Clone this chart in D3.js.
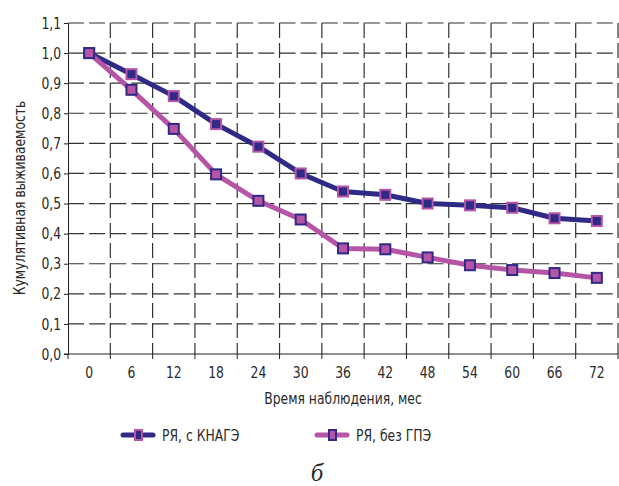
<!DOCTYPE html>
<html>
<head>
<meta charset="utf-8">
<script src="https://cdn.jsdelivr.net/npm/d3@7"></script>
<style>
  body { margin: 0; background: #fff; }
  svg text { font-family: "Liberation Sans Narrow", "DejaVu Sans Condensed", sans-serif; fill: #2a2a2a; }
</style>
</head>
<body>
<svg id="chart" width="619" height="486"></svg>
<script>
// months of observation (x categories)
let MONTHS = [0, 6, 12, 18, 24, 30, 36, 42, 48, 54, 60, 66, 72];
// cumulative survival
let WITH_KNAGE = [1.0, 0.93, 0.857, 0.764, 0.689, 0.60, 0.54, 0.529, 0.50, 0.494, 0.486, 0.451, 0.442];
let WITHOUT_GPE = [1.0, 0.878, 0.748, 0.597, 0.509, 0.447, 0.351, 0.348, 0.321, 0.295, 0.279, 0.269, 0.253];
let Y_TICKS = [0, 0.1, 0.2, 0.3, 0.4, 0.5, 0.6, 0.7, 0.8, 0.9, 1.0, 1.1];
let SERIES_NAMES = ['РЯ, с КНАГЭ', 'РЯ, без ГПЭ'];

let NAVY = '#2e2a86';
let PINK = '#b654a6';
let FONT_SIZE = 16;
let SQUEEZE = 'scale(0.86,1)'; // narrow the font, the original is a condensed face

let margin = { left: 68, right: 1, top: 23, bottom: 132 };
let svg = d3.select('#chart');
let W = +svg.attr('width'), H = +svg.attr('height');

let x = d3.scaleBand().domain(MONTHS).range([margin.left, W - margin.right]);
let y = d3.scaleLinear().domain([0, 1.1]).range([H - margin.bottom, margin.top]);
let fmt = v => d3.format('.1f')(v).replace('.', ',');

// condensed text placed at (px, py)
function label(parent, px, py, str, anchor, extra) {
    return parent.append('g').attr('transform', `translate(${px},${py}) ${extra || ''}`)
        .append('text').attr('transform', SQUEEZE)
        .attr('text-anchor', anchor).attr('font-size', FONT_SIZE).text(str);
}

// horizontal dashed gridlines
svg.append('g').selectAll('line').data(Y_TICKS.slice(1)).enter().append('line')
    .attr('x1', margin.left).attr('x2', W - margin.right)
    .attr('y1', d => y(d)).attr('y2', d => y(d))
    .attr('stroke', '#333').attr('stroke-width', 1.2)
    .attr('stroke-dasharray', '16,5.15');

// vertical dashed gridlines at the band boundaries
let bounds = MONTHS.slice(1).map(m => x(m)).concat([W - margin.right]);
svg.append('g').selectAll('line').data(bounds).enter().append('line')
    .attr('x1', d => d).attr('x2', d => d)
    .attr('y1', y(1.1)).attr('y2', y(0))
    .attr('stroke', '#333').attr('stroke-width', 1.2)
    .attr('stroke-dasharray', '15,5');

// y axis
let yAxis = svg.append('g').attr('transform', `translate(${margin.left},0)`)
    .call(d3.axisLeft(y).tickValues(Y_TICKS).tickFormat(fmt).tickSize(4).tickPadding(4));
yAxis.select('.domain').attr('stroke', '#222');
yAxis.selectAll('.tick line').attr('stroke', '#222');
yAxis.selectAll('text').attr('font-size', FONT_SIZE).attr('fill', '#2a2a2a')
    .attr('transform', SQUEEZE);

// x axis: ticks at band boundaries, labels at band centres
let xg = svg.append('g').attr('transform', `translate(0,${y(0)})`);
xg.append('line').attr('x1', margin.left - 4).attr('x2', W - margin.right)
    .attr('stroke', '#222');
xg.selectAll('.xt').data([margin.left].concat(bounds)).enter().append('line')
    .attr('x1', d => d).attr('x2', d => d).attr('y1', 0).attr('y2', 5)
    .attr('stroke', '#222');
MONTHS.forEach(m => label(xg, x(m) + x.bandwidth() / 2, 24, m, 'middle'));

// axis titles
label(svg, 343, 404, 'Время наблюдения, мес', 'middle');
label(svg, 25, 198, 'Кумулятивная выживаемость', 'middle', 'rotate(-90)');

// lines and markers
let series = [
    { name: SERIES_NAMES[0], values: WITH_KNAGE, line: NAVY, edge: PINK },
    { name: SERIES_NAMES[1], values: WITHOUT_GPE, line: PINK, edge: NAVY }
];
let cx = m => x(m) + x.bandwidth() / 2;
let line = d3.line().x((v, i) => cx(MONTHS[i])).y(v => y(v));

series.forEach(s => {
    svg.append('path').attr('d', line(s.values))
        .attr('fill', 'none').attr('stroke', s.line).attr('stroke-width', 5)
        .attr('stroke-linejoin', 'round');
});
series.forEach(s => {
    svg.append('g').selectAll('rect').data(s.values).enter().append('rect')
        .attr('x', (v, i) => cx(MONTHS[i]) - 5).attr('y', v => y(v) - 5)
        .attr('width', 10).attr('height', 10)
        .attr('fill', s.line).attr('stroke', s.edge).attr('stroke-width', 2);
});

// legend
let legendX = [123, 317];
series.forEach((s, i) => {
    let g = svg.append('g').attr('transform', `translate(${legendX[i]},435)`);
    g.append('line').attr('x1', 0).attr('x2', 30)
        .attr('stroke', s.line).attr('stroke-width', 5).attr('stroke-linecap', 'round');
    g.append('rect').attr('x', 12).attr('y', -5).attr('width', 7).attr('height', 10)
        .attr('fill', s.line).attr('stroke', s.edge).attr('stroke-width', 2);
    label(g, 39, 6, s.name, 'start');
});

// panel letter
svg.append('text').attr('x', 317).attr('y', 481).attr('text-anchor', 'middle')
    .style('font-family', '"Liberation Serif", "DejaVu Serif", serif')
    .attr('font-style', 'italic').attr('font-size', 25).text('б');
</script>
</body>
</html>
